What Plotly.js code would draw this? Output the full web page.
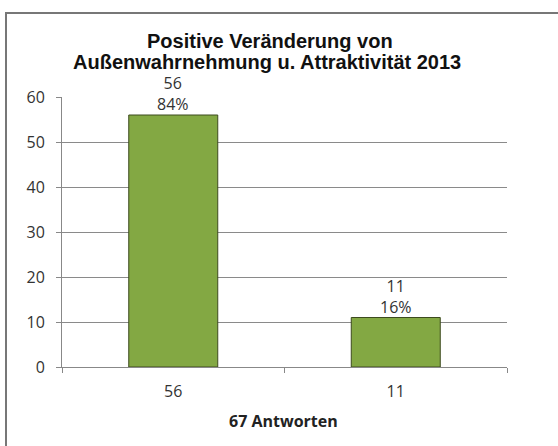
<!DOCTYPE html>
<html>
<head>
<meta charset="utf-8">
<script src="https://cdn.plot.ly/plotly-3.0.1.min.js"></script>
<style>
html,body{margin:0;padding:0;background:#fff;}
#chart{width:558px;height:446px;}
</style>
</head>
<body>
<div id="chart"></div>
<script>
const categories = ["56", "11"];
const values = [56, 11];
const percents = ["84%", "16%"];
const titleLines = ["Positive Veränderung von", "Außenwahrnehmung u. Attraktivität 2013"];
const xTitle = "67 Antworten";

const L = 62, R = 507, T = 97, B = 367;
const W = 558, H = 446;
const pw = R - L, ph = B - T;
const px = x => (x - L) / pw;
const py = y => (B - y) / ph;

const bodyFont = "'Open Sans', Lato, sans-serif";
const titleFont = "'Liberation Sans', Arial, sans-serif";

const trace = {
  type: "bar",
  x: categories,
  y: values,
  width: 0.4,
  marker: {color: "#83A843", line: {color: "#3c4a1e", width: 1}},
  hoverinfo: "skip"
};

// category axis: annotation x given as category index
const barLabels = categories.map((c, i) => ({
  text: values[i] + "<br>" + percents[i],
  xref: "x", yref: "y", x: i, y: values[i],
  xanchor: "center", yanchor: "bottom", yshift: -1,
  borderpad: 0,
  showarrow: false,
  font: {family: bodyFont, size: 16, color: "#333"}
}));

const layout = {
  width: W, height: H,
  margin: {l: L, r: W - R, t: T, b: H - B, pad: 0},
  paper_bgcolor: "#fff",
  plot_bgcolor: "#fff",
  showlegend: false,
  bargap: 0.6,
  xaxis: {
    type: "category",
    categoryarray: categories, categoryorder: "array",
    range: [-0.5, categories.length - 0.5],
    tickfont: {family: bodyFont, size: 16, color: "#333"},
    showline: true, linecolor: "#888", linewidth: 1,
    ticks: "outside", ticklen: 5, tickcolor: "#888",
    tickson: "boundaries",
    ticklabelstandoff: 10,
    tickangle: 0,
    showgrid: false,
    fixedrange: true
  },
  yaxis: {
    range: [0, 60],
    dtick: 10,
    tickfont: {family: bodyFont, size: 16, color: "#333"},
    showline: true, linecolor: "#888", linewidth: 1,
    ticks: "outside", ticklen: 5, tickcolor: "#888",
    ticklabelstandoff: 8,
    showgrid: true, gridcolor: "#8a8a8a", gridwidth: 1,
    zeroline: false,
    fixedrange: true
  },
  annotations: [
    {text: "<b>" + titleLines[0] + "</b>", xref: "paper", yref: "paper", x: px(270), y: py(41),
     xanchor: "center", yanchor: "middle", showarrow: false, borderpad: 0,
     font: {family: titleFont, size: 20, color: "#111"}},
    {text: "<b>" + titleLines[1] + "</b>", xref: "paper", yref: "paper", x: px(267), y: py(62),
     xanchor: "center", yanchor: "middle", showarrow: false, borderpad: 0,
     font: {family: titleFont, size: 20, color: "#111"}},
    {text: "<b>" + xTitle + "</b>", xref: "paper", yref: "paper", x: px(283), y: py(421),
     xanchor: "center", yanchor: "middle", showarrow: false,
     font: {family: bodyFont, size: 16, color: "#222"}}
  ].concat(barLabels),
  shapes: [{
    type: "rect", xref: "paper", yref: "paper",
    x0: px(6), x1: px(580), y0: py(13), y1: py(470),
    line: {color: "#777", width: 2}, fillcolor: "rgba(0,0,0,0)", layer: "above"
  }]
};

Plotly.newPlot("chart", [trace], layout, {displayModeBar: false, staticPlot: true});
</script>
</body>
</html>
